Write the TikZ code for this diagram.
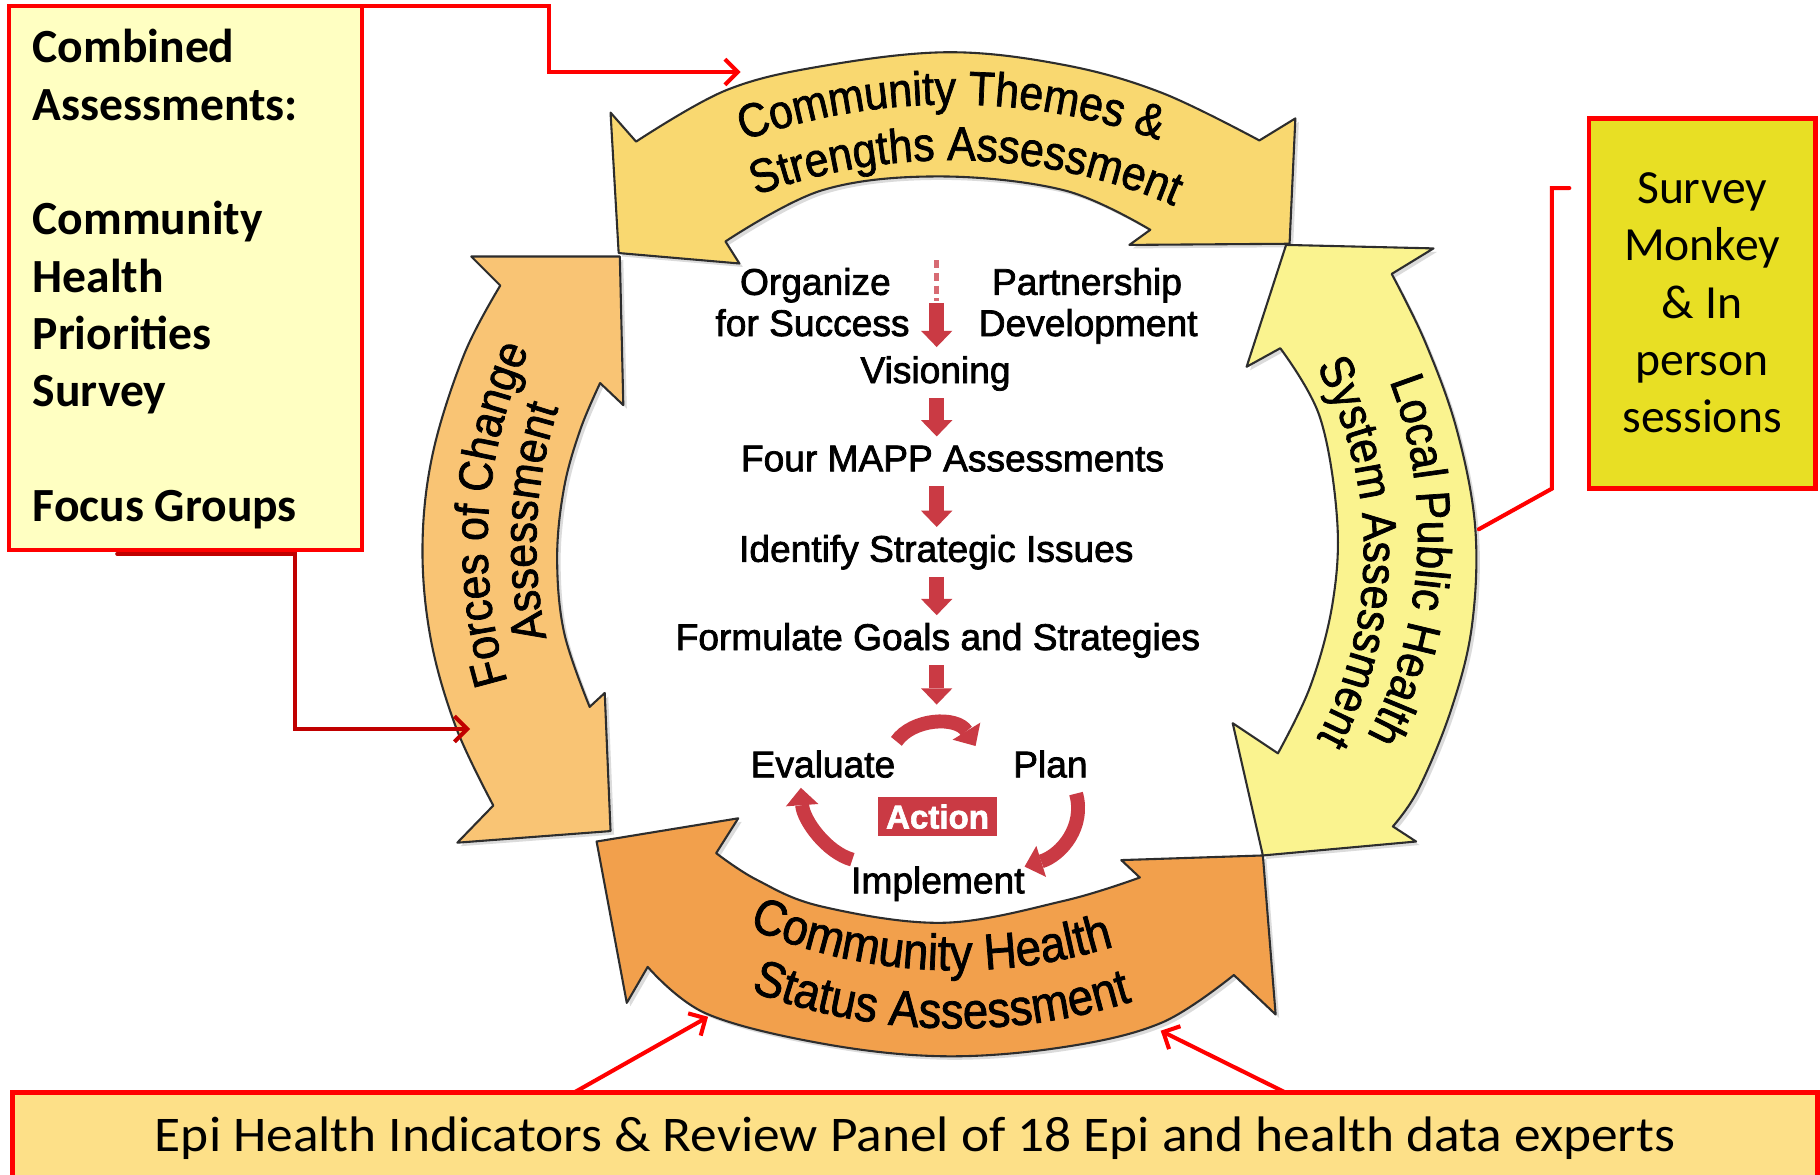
\documentclass[tikz,border=0pt]{standalone}
\usepackage{fontspec}
\setmainfont{Carlito}
\newfontfamily\arrowfont{Liberation Sans}[FakeStretch=0.9,FakeBold=1.5]
\newfontfamily\mappfont{Liberation Sans}[FakeBold=2]
\newfontfamily\widecarlito{Carlito}[FakeStretch=1.07]
\usetikzlibrary{arrows.meta,calc,decorations.text}
\definecolor{boxred}{RGB}{255,0,0}
\definecolor{darkconn}{RGB}{192,0,0}
\definecolor{leftboxfill}{RGB}{255,255,194}
\definecolor{rightboxfill}{RGB}{232,223,36}
\definecolor{bottomboxfill}{RGB}{253,224,136}
\definecolor{topfill}{RGB}{249,216,112}
\definecolor{rightfill}{RGB}{250,243,143}
\definecolor{bottomfill}{RGB}{242,160,76}
\definecolor{leftfill}{RGB}{249,196,116}
\definecolor{mappred}{RGB}{202,58,68}
\definecolor{outline}{RGB}{45,45,45}
\begin{document}
\begin{tikzpicture}[x=1pt,y=-1pt,
  ringarrow/.style={draw=outline, line width=1.8pt, line join=round,
     preaction={fill=black!40, opacity=.35, transform canvas={shift={(3pt,-3pt)}}}},
  callbox/.style={draw=boxred, line width=3.5pt, anchor=north west, inner sep=0pt, outer sep=0pt},
  redconn/.style={draw=boxred, line width=3.5pt, line cap=round},
  redtip/.style={-{Straight Barb[length=11pt,width=22pt]}},
  steptext/.style={font=\mappfont\fontsize{32pt}{32pt}\selectfont, inner sep=0pt, outer sep=0pt, text height=23pt, text depth=7pt, anchor=base},
  blockarrow/.style={draw=mappred, line width=13pt, shorten <=6pt, shorten >=7pt, -{Triangle[length=14pt,width=27pt,line width=0pt]}},
  cyclearrow/.style={draw=mappred, line width=12pt, -{Triangle[length=15pt,width=28pt,line width=0pt]}},
  ringtext/.style 2 args={decorate, decoration={text along path, text align=center, text={|\arrowfont\fontsize{#2}{#2}\selectfont|#1}}},
]
\useasboundingbox (0,0) rectangle (1568,1012);
\fill[white] (0,0) rectangle (1568,1012);

% ---------------- ring arrows ----------------
\filldraw[ringarrow, fill=topfill] (526,97) -- (548,122)
  -- plot[smooth, tension=0.6] coordinates {(548,122) (625,78) (708,57) (817,45) (917,56) (1001,80) (1085,121)}
  -- (1116,102) -- (1111,210) -- (973,211) -- (991,198)
  -- plot[smooth, tension=0.6] coordinates {(991,198) (917,164) (809,152) (708,164) (625,208)}
  -- (637,227) -- (533,218) -- cycle;

\filldraw[ringarrow, fill=leftfill] (406,221) -- (534,221) -- (537,349) -- (517,330)
  -- plot[smooth, tension=0.6] coordinates {(517,330) (500,370) (486,420) (480,480) (486,545) (508,609)}
  -- (521,597) -- (526,716) -- (394,726) -- (425,694)
  -- plot[smooth, tension=0.6] coordinates {(425,694) (393,627) (371,550) (364,470) (373,390) (400,305) (431,246)}
  -- cycle;

\filldraw[ringarrow, fill=rightfill] (1108,211) -- (1235,214) -- (1199,236)
  -- plot[smooth, tension=0.6] coordinates {(1199,236) (1228,295) (1255,370) (1271,455) (1268,540) (1250,612) (1222,680) (1200,712)}
  -- (1220,725) -- (1088,737) -- (1062,623) -- (1101,649)
  -- plot[smooth, tension=0.6] coordinates {(1101,649) (1129,591) (1148,520) (1152,448) (1137,359) (1103,300)}
  -- (1074,316) -- cycle;

\filldraw[ringarrow, fill=bottomfill] (514,725) -- (636,705) -- (617,735)
  -- plot[smooth, tension=0.6] coordinates {(617,735) (652,758) (708,781) (813,795) (917,776) (982,756)}
  -- (966,741) -- (1088,737) -- (1099,874) -- (1063,840)
  -- plot[smooth, tension=0.6] coordinates {(1063,840) (1001,881) (917,902) (813,910) (708,899) (608,873) (558,833)}
  -- (540,864) -- cycle;

% ---------------- ring texts ----------------
\path[ringtext={Community Themes {\&}}{41pt}] plot[domain=0:1,samples=120] ({820+532*cos(240+60*\x)},{622+532*sin(240+60*\x)});
\path[ringtext={Strengths Assessment}{41pt}] plot[domain=0:1,samples=120] ({820+484*cos(241.5+60*\x)},{622+484*sin(241.5+60*\x)});
\path[ringtext={Forces of Change}{41pt}] plot[domain=0:1,samples=120] ({832+412*cos(153.7+60*\x)},{469+412*sin(153.7+60*\x)});
\path[ringtext={Assessment}{41pt}] plot[domain=0:1,samples=120] ({832+370*cos(153+60*\x)},{469+370*sin(153+60*\x)});
\path[ringtext={Local Public Health}{41pt}] plot[domain=0:1,samples=120] ({854+367.5*cos(-26.3+60*\x)},{460+367.5*sin(-26.3+60*\x)});
\path[ringtext={System Assessment}{41pt}] plot[domain=0:1,samples=120] ({840+335*cos(-35+70*\x)},{476+335*sin(-35+70*\x)});
\path[ringtext={Community Health}{43.5pt}] plot[domain=0:1,samples=120] ({824+456*cos(122.85-60*\x)},{380+456*sin(122.85-60*\x)});
\path[ringtext={Status Assessment}{43.5pt}] plot[domain=0:1,samples=120] ({824+506*cos(121.5-60*\x)},{380+506*sin(121.5-60*\x)});

% ---------------- centre steps ----------------
\node[steptext] (org) at (702.5,254) {Organize};
\node[steptext] (succ) at (700,289.5) {for Success};
\node[steptext] (part) at (936.5,254) {Partnership};
\node[steptext] (dev) at (937.5,289.5) {Development};
\node[steptext] (vis) at (806,330) {Visioning};
\node[steptext] (four) at (820.6,406) {Four MAPP Assessments};
\node[steptext] (ident) at (806.6,484) {Identify Strategic Issues};
\node[steptext] (form) at (808,560) {Formulate Goals and Strategies};
\node[steptext] (eval) at (709,669.7) {Evaluate};
\node[steptext] (plan) at (905,669.7) {Plan};
\node[steptext] (impl) at (808,769.6) {Implement};
\node[fill=mappred, text=white, font=\mappfont\bfseries\fontsize{28.5pt}{28.5pt}\selectfont,
      minimum width=102pt, minimum height=34pt, inner sep=0pt] (act) at (807.7,703.6) {Action};

\coordinate (dashtop) at (807,224);
\coordinate (cyctop) at (807,607);
\draw[draw=mappred!75!white, line width=4pt, dash pattern=on 7pt off 4pt] (dashtop) -- ++(0,35);
\draw[blockarrow, shorten <=0pt, shorten >=8pt] ($(dashtop)+(0,37)$) -- (vis.north -| dashtop);
\draw[blockarrow] (vis.south -| dashtop) -- (four.north -| dashtop);
\draw[blockarrow] (four.south -| dashtop) -- (ident.north -| dashtop);
\draw[blockarrow] (ident.south -| dashtop) -- (form.north -| dashtop);
\draw[blockarrow, shorten >=0pt] (form.south -| dashtop) -- (cyctop);

\draw[cyclearrow] ($(eval.north east)+(1,-8)$) .. controls +(14,-20) and +(-16,-26) .. ($(plan.north west)+(-32.5,-4)$);
\draw[cyclearrow] ($(plan.south east)+(-10,7)$) .. controls +(8,28) and +(32,-10) .. (impl.north east);
\draw[cyclearrow] ($(impl.north west)+(1,-6)$) .. controls +(-22,-6) and +(2,28) .. ($(eval.south)+(-19,2)$);

% ---------------- call-out boxes ----------------
\node[callbox, fill=leftboxfill, minimum width=304pt, minimum height=469pt] (lbox) at (8,5) {};
\node[anchor=base west, inner sep=0pt, font=\bfseries\fontsize{41pt}{49.4pt}\selectfont] (ltext) at (28,54)
  {\begin{tabular}[t]{@{}l@{}}Combined\\Assessments:\\ \\Community\\Health\\Priorities\\Survey\\ \\Focus Groups\end{tabular}};

\node[callbox, line width=4pt, fill=rightboxfill, minimum width=195pt, minimum height=319pt] (rbox) at (1369,102) {};
\node[anchor=base, inner sep=0pt, font=\fontsize{41pt}{49.5pt}\selectfont] (rtext) at (1466.4,175)
  {\begin{tabular}[t]{@{}c@{}}Survey\\Monkey\\\& In\\person\\sessions\end{tabular}};

\node[callbox, line width=4pt, fill=bottomboxfill, minimum width=1555pt, minimum height=90pt] (bbox) at (11,941) {};
\node[anchor=base, inner sep=0pt, font=\widecarlito\fontsize{43pt}{43pt}\selectfont] (btext) at (788.5,992)
  {Epi Health Indicators \& Review Panel of 18 Epi and health data experts};

% ---------------- connectors ----------------
\coordinate (tTarget) at (638,62);
\coordinate (lTarget) at (405,628);
\coordinate (rTarget) at (1274,456);
\coordinate (bTargetL) at (610,876);
\coordinate (bTargetR) at (1000,888);

\draw[redconn, redtip] (lbox.north east) -| ([xshift=-165pt]tTarget) -- (tTarget);
\draw[redconn, draw=darkconn, redtip] ($(lbox.south west)+(93,3)$) -- ++(153,0) |- (lTarget);
\draw[redconn] ($(rbox.north west)+(-17,60)$) -- ++(-15,0) -- ++(0,259) -- (rTarget);
\draw[redconn, redtip] ($(bbox.north west)+(484,0)$) -- (bTargetL);
\draw[redconn, redtip] ($(bbox.north west)+(1096,0)$) -- (bTargetR);
\end{tikzpicture}
\end{document}
